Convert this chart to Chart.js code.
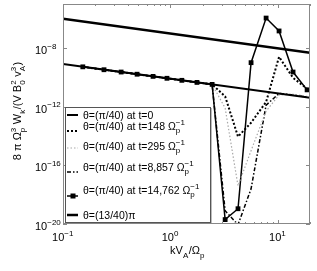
<!DOCTYPE html>
<html>
<head>
<meta charset="utf-8">
<script src="https://cdn.jsdelivr.net/npm/chart.js@4/dist/chart.umd.min.js"></script>
<style>
  html, body { margin: 0; padding: 0; background: #fff; }
  canvas { display: block; }
</style>
</head>
<body>
<canvas id="spec" width="317" height="271"></canvas>
<script>
// k V_A / Omega_p grid of the evolved runs
const kGrid = [0.153, 0.241, 0.348, 0.49, 0.69, 0.93, 1.28, 1.77, 2.45, 3.24, 4.27, 5.65, 7.8, 10.3, 13.9, 18.8];
// the two initial spectra are straight lines, only their ends are needed
const kEnds = [0.1, 20];
const initPi40 = [8e-10, 4e-12];
const init13Pi40 = [1e-6, 4.7e-9];

const t148 = [5.2e-10, 3.3e-10, 2.3e-10, 1.63e-10, 1.16e-10, 8.6e-11, 6.25e-11, 4.5e-11, 3.3e-11, 5e-12, 9e-15, 8e-14, 2.1e-12, 2.5e-9, 9.3e-11, 1.66e-11];
const t295 = [5.2e-10, 3.3e-10, 2.3e-10, 1.63e-10, 1.16e-10, 8.6e-11, 6.25e-11, 4.5e-11, 3.3e-11, 8e-13, 4e-18, 1e-15, 5e-13, 6.3e-12, 7e-12, 5e-12];
const t8857 = [5.2e-10, 3.3e-10, 2.3e-10, 1.63e-10, 1.16e-10, 8.6e-11, 6.25e-11, 4.5e-11, 3.3e-11, 8e-20, 9e-21, 2.5e-18, 1.26e-12, 8e-12, 6.3e-12, 4.5e-12];
const t14762 = [5.2e-10, 3.3e-10, 2.3e-10, 1.63e-10, 1.16e-10, 8.6e-11, 6.25e-11, 4.5e-11, 3.3e-11, 2e-20, 1.1e-19, 1e-9, 1.1e-6, 1.45e-7, 2.3e-10, 1.4e-11];

const xTicks = [0.1, 1, 10];
const yTicks = [1e-8, 1e-12, 1e-16, 1e-20];

const seriesLabels = [
  "θ=(π/40) at t=0",
  "θ=(π/40) at t=148 Ωp−1",
  "θ=(π/40) at t=295 Ωp−1",
  "θ=(π/40) at t=8,857 Ωp−1",
  "θ=(π/40) at t=14,762 Ωp−1",
  "θ=(13/40)π",
];
const unit = (s) => [{ t: s + " Ω" }, { sub: "p", sup: "−1" }];
const legendParts = [
  [{ t: "θ=(π/40) at t=0" }],
  unit("θ=(π/40) at t=148"),
  unit("θ=(π/40) at t=295"),
  unit("θ=(π/40) at t=8,857"),
  unit("θ=(π/40) at t=14,762"),
  [{ t: "θ=(13/40)π" }],
];

const FONT = '"Liberation Sans", Arial, sans-serif';
const GRAY = "#888";

function drawRich(ctx, parts, x, y, size, align) {
  const big = size + "px " + FONT;
  const small = Math.round(size * 0.73) + "px " + FONT;
  const w = (p) => {
    if (p.t !== undefined) { ctx.font = big; return ctx.measureText(p.t).width; }
    ctx.font = small;
    return Math.max(p.sub ? ctx.measureText(p.sub).width : 0, p.sup ? ctx.measureText(p.sup).width : 0) + 0.5;
  };
  const total = parts.reduce((s, p) => s + w(p), 0);
  let cx = align === "center" ? x - total / 2 : align === "right" ? x - total : x;
  ctx.textAlign = "left";
  ctx.textBaseline = "alphabetic";
  for (const p of parts) {
    const pw = w(p);
    if (p.t !== undefined) {
      ctx.font = big;
      ctx.fillText(p.t, cx, y);
    } else {
      ctx.font = small;
      if (p.sup) ctx.fillText(p.sup, cx, y - size * 0.5);
      if (p.sub) ctx.fillText(p.sub, cx, y + size * 0.32);
    }
    cx += pw;
  }
}

const pow10 = (v) => [{ t: "10" }, { sup: String(Math.round(Math.log10(v))).replace("-", "−") }];

const decor = {
  id: "decor",
  afterDatasetsDraw(chart) {
    const { ctx, chartArea: a, scales: { x, y } } = chart;
    ctx.save();
    ctx.fillStyle = "#000";

    // frame + ticks (inside, matlab style)
    ctx.strokeStyle = GRAY;
    ctx.lineWidth = 1;
    ctx.strokeRect(a.left + 0.5, a.top + 0.5, a.right - a.left - 1, a.bottom - a.top - 1);
    ctx.beginPath();
    for (const d of xTicks) {
      for (let m = 1; m <= 9; m++) {
        const v = d * m;
        if (v < x.min || v > x.max) continue;
        const px = Math.round(x.getPixelForValue(v)) + 0.5;
        const len = m === 1 ? 4 : 2;
        ctx.moveTo(px, a.bottom); ctx.lineTo(px, a.bottom - len);
        ctx.moveTo(px, a.top); ctx.lineTo(px, a.top + len);
      }
    }
    for (const v of yTicks) {
      const py = Math.round(y.getPixelForValue(v)) + 0.5;
      ctx.moveTo(a.left, py); ctx.lineTo(a.left + 4, py);
      ctx.moveTo(a.right, py); ctx.lineTo(a.right - 4, py);
    }
    ctx.stroke();

    // tick labels
    for (const v of xTicks) drawRich(ctx, pow10(v), x.getPixelForValue(v), 241, 11, "center");
    for (const v of yTicks) drawRich(ctx, pow10(v), 35, y.getPixelForValue(v) + 6, 11, "left");

    // axis titles
    drawRich(ctx, [{ t: "kV" }, { sub: "A" }, { t: "/Ω" }, { sub: "p" }], (a.left + a.right) / 2 + 1, 254, 11, "center");
    ctx.save();
    ctx.translate(21, 111);
    ctx.rotate(-Math.PI / 2);
    drawRich(ctx, [
      { t: "8 π Ω" }, { sub: "p", sup: "3" }, { t: " W" }, { sub: "k" },
      { t: "/(V B" }, { sub: "0", sup: "2" }, { t: " v" }, { sub: "A", sup: "3" }, { t: ")" },
    ], 0, 0, 11, "center");
    ctx.restore();

    // legend box
    const lx = 65, ly = 107, lw = 145, lh = 115;
    ctx.fillStyle = "#fff";
    ctx.fillRect(lx, ly, lw, lh);
    ctx.strokeStyle = "#555";
    ctx.strokeRect(lx + 0.5, ly + 0.5, lw, lh);
    ctx.strokeStyle = "#bbb";
    ctx.beginPath(); ctx.moveTo(lx + lw + 1.5, ly + 1); ctx.lineTo(lx + lw + 1.5, ly + lh + 1); ctx.stroke();

    const symY = [115, 131, 148, 172, 196, 215];
    const textY = [119, 130, 150, 171, 194, 219];
    chart.data.datasets.forEach((ds, i) => {
      ctx.save();
      ctx.strokeStyle = ds.borderColor;
      ctx.lineWidth = ds.borderWidth;
      ctx.setLineDash(ds.borderDash || []);
      ctx.beginPath();
      ctx.moveTo(67, symY[i]); ctx.lineTo(78, symY[i]);
      ctx.stroke();
      if (ds.pointRadius > 0) {
        ctx.fillStyle = ds.borderColor;
        ctx.fillRect(70.5, symY[i] - 2.5, 5, 5);
      }
      ctx.restore();
      ctx.fillStyle = "#000";
      drawRich(ctx, legendParts[i], 83, textY[i], 10.5, "left");
    });
    ctx.restore();
  },
};

const pts = (xs, ys) => xs.map((k, i) => ({ x: k, y: ys[i] }));
const base = { fill: false, tension: 0, pointRadius: 0, borderColor: "#000", borderWidth: 1.5 };

new Chart(document.getElementById("spec"), {
  type: "line",
  data: {
    datasets: [
      { ...base, label: seriesLabels[0], data: pts(kEnds, initPi40), borderWidth: 2 },
      { ...base, label: seriesLabels[1], data: pts(kGrid, t148), borderWidth: 2, borderDash: [2, 2] },
      { ...base, label: seriesLabels[2], data: pts(kGrid, t295), borderColor: "#a8a8a8", borderWidth: 1.2, borderDash: [1.5, 2] },
      { ...base, label: seriesLabels[3], data: pts(kGrid, t8857), borderWidth: 1.5, borderDash: [4, 2, 1.5, 2] },
      { ...base, label: seriesLabels[4], data: pts(kGrid, t14762), pointRadius: 3.4, pointStyle: "rect", pointBackgroundColor: "#000", pointBorderWidth: 0 },
      { ...base, label: seriesLabels[5], data: pts(kEnds, init13Pi40), borderWidth: 2.5 },
    ],
  },
  options: {
    responsive: false,
    animation: false,
    layout: { padding: { left: 63, top: 3, right: 7, bottom: 47 } },
    plugins: { legend: { display: false }, tooltip: { enabled: false } },
    scales: {
      x: { type: "logarithmic", min: 0.1, max: 20, display: false },
      y: { type: "logarithmic", min: 1e-20, max: 1e-5, display: false },
    },
  },
  plugins: [decor],
});
</script>
</body>
</html>
